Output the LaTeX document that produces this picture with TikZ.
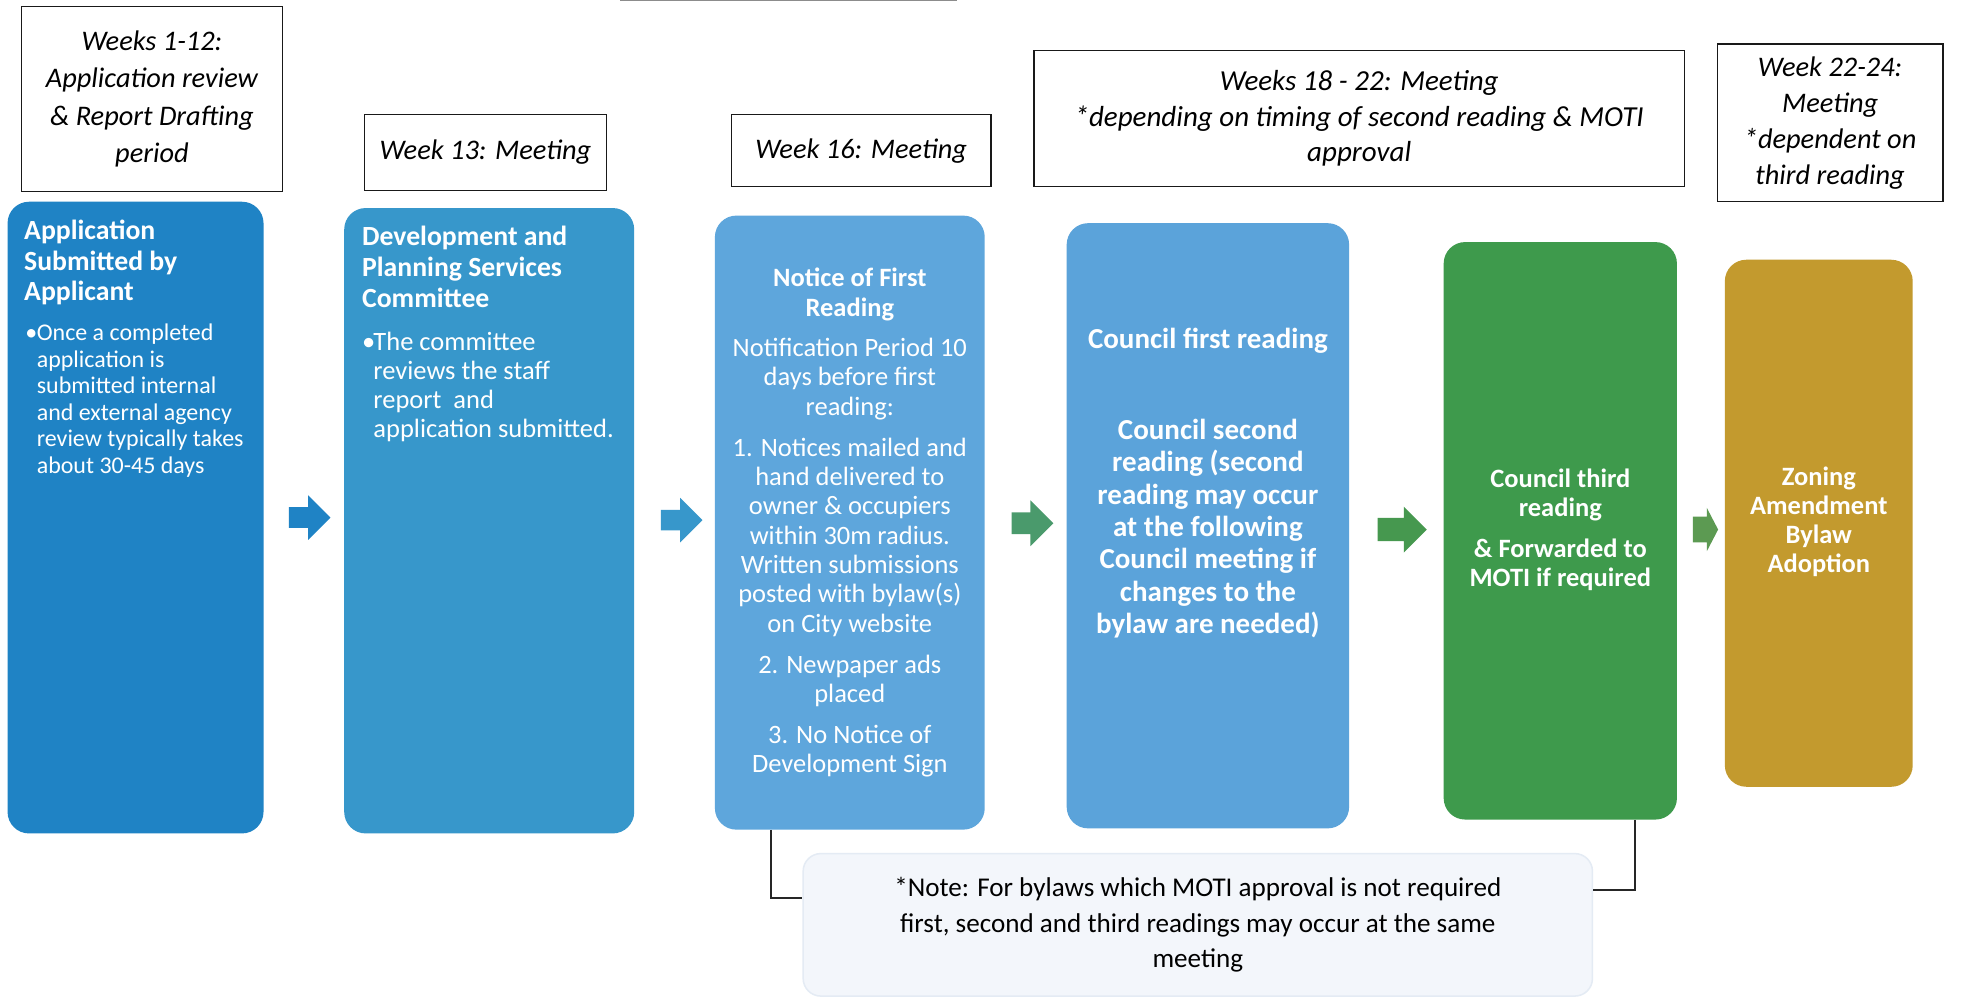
\documentclass[tikz,border=0pt]{standalone}
\usepackage{fontspec}
\setmainfont{Carlito}
\usetikzlibrary{shapes.arrows}

\definecolor{cA}{HTML}{1F83C5}
\definecolor{cB}{HTML}{3797CB}
\definecolor{cC}{HTML}{5EA6DC}
\definecolor{cD}{HTML}{5BA3DA}
\definecolor{cE}{HTML}{3E9A4C}
\definecolor{cF}{HTML}{C39A2E}
\definecolor{arC}{HTML}{4A9A6C}
\definecolor{arD}{HTML}{46984F}
\definecolor{arE}{HTML}{5C9A52}
\definecolor{notefill}{HTML}{F3F6FB}
\definecolor{noteedge}{HTML}{E4EBF4}

\newcommand{\stbul}{\makebox[9pt][l]{•}}
\newcommand{\stind}{\hspace*{9pt}}

\tikzset{
  hdr/.style={draw=black!90, line width=1.1pt, fill=white, align=center,
    inner sep=0pt, font=\fontsize{22.5}{29.5}\selectfont\itshape},
  stage/.style={rounded corners=17pt, draw=none, inner sep=0pt},
  ttl/.style={text=white, inner sep=0pt, font=\bfseries\fontsize{22}{24.5}\selectfont},
  body/.style={text=white, inner sep=0pt},
  blockarrow/.style={single arrow, draw=none, inner xsep=0pt, shape border rotate=0},
  bracket/.style={draw=black!85, line width=1.6pt},
}

\begin{document}
\begin{tikzpicture}[x=1pt,y=-1pt]
\useasboundingbox (0,0) rectangle (1568,792);
\fill[white] (0,0) rectangle (1568,792);

% faint rule along the top edge
\draw[black!45, line width=1pt] (492,0.6) -- (759,0.6);

% timing labels
\node[hdr, minimum width=207pt, minimum height=147pt] (h1) at (120.5,78.5)
  {Weeks 1-12:\\Application review\\\& Report Drafting\\period};
\node[hdr, minimum width=192pt, minimum height=60pt] (h2) at (385,121)
  {Week 13: Meeting};
\node[hdr, minimum width=206pt, minimum height=57pt] (h3) at (683,119.5)
  {Week 16: Meeting};
\node[hdr, minimum width=516pt, minimum height=108pt,
  font=\fontsize{23}{28}\selectfont\itshape] (h4) at (1078,94)
  {Weeks 18 - 22: Meeting\\*depending on timing of second reading \& MOTI\\approval};
\node[hdr, minimum width=179pt, minimum height=125pt,
  font=\fontsize{22.5}{28.5}\selectfont\itshape] (h5) at (1451.5,97.5)
  {Week 22-24:\\Meeting\\*dependent on\\third reading};

% stage boxes
\node[stage, fill=cA, minimum width=203pt, minimum height=501pt] (b1) at (107.5,410.5) {};
\node[stage, fill=cB, minimum width=230pt, minimum height=496pt] (b2) at (388,413) {};
\node[stage, fill=cC, minimum width=214pt, minimum height=487pt] (b3) at (674,414.5) {};
\node[stage, fill=cD, minimum width=224pt, minimum height=480pt] (b4) at (958,417) {};
\node[stage, fill=cE, minimum width=185pt, minimum height=458pt] (b5) at (1237.5,421) {};
\node[stage, fill=cF, minimum width=149pt, minimum height=418pt] (b6) at (1442.5,415) {};

% stage 1
\node[ttl, anchor=north west, align=left] (t1) at (19,174)
  {Application\\Submitted by\\Applicant};
\node[body, anchor=north west, align=left, font=\fontsize{19}{21}\selectfont] (d1) at (20,257)
  {\stbul Once a completed\\\stind application is\\\stind submitted internal\\\stind and external agency\\\stind review typically takes\\\stind about 30-45 days};

% stage 2
\node[ttl, anchor=north west, align=left] (t2) at (287,179)
  {Development and\\Planning Services\\Committee};
\node[body, anchor=north west, align=left, font=\fontsize{21}{23}\selectfont] (d2) at (287,263)
  {\stbul The committee\\\stind reviews the staff\\\stind report\ \ and\\\stind application submitted.};

% stage 3
\node[ttl, anchor=north, align=center, font=\bfseries\fontsize{21}{23.5}\selectfont] (t3) at (674,212.5)
  {Notice of First\\Reading};
\node[body, anchor=north, align=center, font=\fontsize{21}{23.3}\selectfont] (d3) at (674,268)
  {Notification Period 10\\days before first\\reading:\\[9pt]
   1. Notices mailed and\\hand delivered to\\owner \& occupiers\\within 30m radius.\\Written submissions\\posted with bylaw(s)\\on City website\\[9pt]
   2. Newpaper ads\\placed\\[9pt]
   3. No Notice of\\Development Sign};

% stage 4
\node[ttl, anchor=north, align=center, font=\bfseries\fontsize{23}{25.7}\selectfont] (t4) at (958,260)
  {Council first reading};
\node[ttl, anchor=north, align=center, font=\bfseries\fontsize{23}{25.7}\selectfont] (d4) at (958,332)
  {Council second\\reading (second\\reading may occur\\at the following\\Council meeting if\\changes to the\\bylaw are needed)};

% stage 5
\node[ttl, anchor=north, align=center, font=\bfseries\fontsize{21}{23}\selectfont] (t5) at (1237.5,371.5)
  {Council third\\reading\\[9.5pt]\& Forwarded to\\MOTI if required};

% stage 6
\node[ttl, anchor=north, align=center, font=\bfseries\fontsize{21}{23}\selectfont] (t6) at (1442.5,370.5)
  {Zoning\\Amendment\\Bylaw\\Adoption};

% arrows between stages
\node[blockarrow, fill=cA, minimum height=33pt, inner ysep=8pt, single arrow head extend=9.5pt] (a1) at (241.5,410.5) {};
\node[blockarrow, fill=cB, minimum height=33pt, inner ysep=8pt, single arrow head extend=9.5pt] (a2) at (536.5,412.5) {};
\node[blockarrow, fill=arC, minimum height=33pt, inner ysep=8.5pt, single arrow head extend=9.5pt] (a3) at (814.5,415) {};
\node[blockarrow, fill=arD, minimum height=39pt, inner ysep=9pt, single arrow head extend=9pt] (a4) at (1107.5,420) {};
\node[blockarrow, fill=arE, minimum height=20pt, inner ysep=10pt, single arrow head extend=7pt, single arrow tip angle=125] (a5) at (1350,420) {};

% note
\node[draw=noteedge, line width=1.2pt, fill=notefill, rounded corners=14pt,
  minimum width=626pt, minimum height=113pt, align=center,
  font=\fontsize{21.5}{28}\selectfont] (note) at (950,733.5)
  {*Note: For bylaws which MOTI approval is not required\\first, second and third readings may occur at the same\\meeting};

\draw[bracket] ([xshift=45pt]b3.south west) |- ([yshift=21.5pt]note.west);
\draw[bracket] ([xshift=152pt]b5.south west) |- ([yshift=27.5pt]note.east);

\end{tikzpicture}
\end{document}
